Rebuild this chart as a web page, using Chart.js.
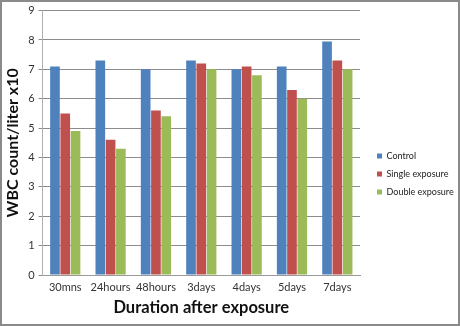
<!DOCTYPE html>
<html>
<head>
<meta charset="utf-8">
<script src="https://cdn.jsdelivr.net/npm/chart.js@4"></script>
<style>
  html, body { margin: 0; padding: 0; background: #fff; }
  .frame {
    position: relative;
    width: 460px;
    height: 326px;
    box-sizing: border-box;
    border: 2px solid #8a8a8a;
    background: #fff;
    overflow: hidden;
  }
  canvas { display: block; position: absolute; left: 0; top: -2px; }
</style>
</head>
<body>
<div class="frame">
  <canvas id="wbcChart" width="456" height="326"></canvas>
</div>
<script>
const categories = ["30mns", "24hours", "48hours", "3days", "4days", "5days", "7days"];
const controlValues = [7.1, 7.3, 7.0, 7.3, 7.0, 7.1, 7.95];
const singleValues = [5.5, 4.6, 5.6, 7.2, 7.1, 6.3, 7.3];
const doubleValues = [4.9, 4.3, 5.4, 7.0, 6.8, 6.0, 7.0];
const yTicks = [0, 1, 2, 3, 4, 5, 6, 7, 8, 9];

const fontFamily = "Lato, 'Open Sans', sans-serif";

const ctx = document.getElementById("wbcChart").getContext("2d");
new Chart(ctx, {
  type: "bar",
  data: {
    labels: categories,
    datasets: [
      { label: "Control", data: controlValues, backgroundColor: "#4f81bd" },
      { label: "Single exposure", data: singleValues, backgroundColor: "#c0504d" },
      { label: "Double exposure", data: doubleValues, backgroundColor: "#9bbb59" },
    ],
  },
  options: {
    responsive: false,
    animation: false,
    layout: { padding: { top: 0, right: 0, left: 1, bottom: 8 } },
    datasets: {
      bar: { categoryPercentage: 0.68, barPercentage: 0.94 },
    },
    scales: {
      x: {
        grid: { display: false, drawTicks: false },
        border: { color: "#9a9a9a" },
        ticks: {
          color: "#333",
          font: { family: fontFamily, size: 11 },
          padding: 6,
          maxRotation: 0,
          autoSkip: false,
        },
        title: {
          display: true,
          text: "Duration after exposure",
          color: "#111",
          font: { family: fontFamily, size: 16.5, weight: "bold" },
          padding: { top: -2, bottom: 0 },
        },
      },
      y: {
        min: 0,
        max: 9,
        afterBuildTicks: (axis) => {
          axis.ticks = yTicks.map((v) => ({ value: v }));
        },
        grid: { color: "#8c8c8c", tickLength: 4 },
        border: { color: "#b0b0b0" },
        ticks: { color: "#333", font: { family: fontFamily, size: 11 }, padding: 4 },
        title: {
          display: true,
          text: "WBC count/liter x10",
          color: "#111",
          font: { family: fontFamily, size: 16, weight: "bold" },
          padding: { top: 0, bottom: 2 },
        },
      },
      // empty spacer between the plot and the legend
      gap: {
        position: "right",
        grid: { display: false },
        border: { display: false },
        ticks: { display: false },
        afterFit: (axis) => {
          axis.width = 8;
        },
      },
    },
    plugins: {
      legend: {
        position: "right",
        maxWidth: 90,
        title: {
          display: true,
          text: "",
          font: { size: 10 },
          padding: { top: 9, bottom: 9 },
        },
        labels: {
          boxWidth: 5,
          boxHeight: 5,
          padding: 9,
          color: "#222",
          font: { family: fontFamily, size: 9 },
        },
      },
      tooltip: { enabled: false },
    },
  },
});
</script>
</body>
</html>
